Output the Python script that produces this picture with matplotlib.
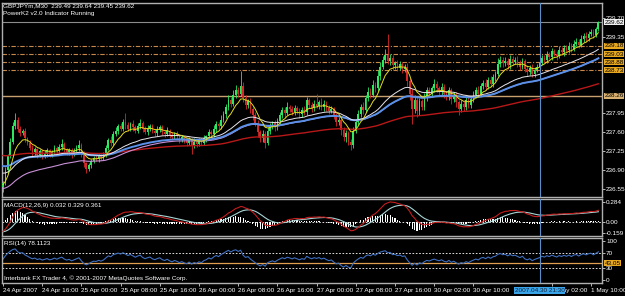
import matplotlib
matplotlib.use('agg')
import matplotlib.pyplot as plt
import matplotlib.transforms as mtransforms
import numpy as np
import pandas as pd

# GBPJPYm M30, 24 Apr 2007 08:00 .. 1 May 2007 11:30 (bar index 0..243)
first_open = 236.58
closes = [
    236.66, 236.90, 237.15, 237.42, 237.70, 237.82, 237.65, 237.58, 237.62, 237.48,
    237.40, 237.30, 237.22, 237.28, 237.18, 237.24, 237.15, 237.20, 237.26, 237.18,
    237.22, 237.30, 237.24, 237.32, 237.38, 237.28, 237.22, 237.26, 237.18, 237.24,
    237.30, 237.36, 237.20, 237.02, 236.92, 236.98, 237.06, 237.12, 237.10, 237.16,
    237.12, 237.18, 237.30, 237.44, 237.40, 237.56, 237.62, 237.70, 237.66, 237.78,
    237.72, 237.66, 237.74, 237.68, 237.62, 237.70, 237.76, 237.66, 237.60, 237.66,
    237.70, 237.62, 237.58, 237.64, 237.68, 237.60, 237.56, 237.62, 237.55, 237.50,
    237.56, 237.52, 237.46, 237.50, 237.44, 237.40, 237.46, 237.36, 237.42, 237.38,
    237.44, 237.40, 237.48, 237.52, 237.60, 237.56, 237.66, 237.74, 237.70, 237.82,
    237.92, 238.05, 238.18, 238.12, 238.28, 238.36, 238.30, 238.44, 238.22, 238.10,
    238.16, 238.02, 237.90, 237.76, 237.60, 237.48, 237.56, 237.40, 237.62, 237.70,
    237.76, 237.68, 237.80, 237.90, 238.00, 237.94, 238.06, 238.02, 237.96, 238.04,
    237.98, 237.92, 238.00, 237.96, 238.18, 238.10, 238.04, 238.12, 238.08, 238.14,
    238.06, 238.12, 238.04, 237.98, 238.02, 237.90, 237.78, 237.82, 237.64, 237.50,
    237.58, 237.42, 237.36, 237.62, 237.78, 237.92, 238.06, 238.00, 238.22, 238.34,
    238.28, 238.46, 238.40, 238.62, 238.80, 238.92, 239.02, 238.90, 238.96, 238.82,
    238.86, 238.78, 238.84, 238.76, 238.80, 238.54, 238.30, 238.02, 238.18, 237.98,
    238.16, 238.06, 238.24, 238.36, 238.30, 238.40, 238.48, 238.40, 238.34, 238.42,
    238.30, 238.24, 238.36, 238.20, 238.28, 238.14, 238.02, 238.12, 238.06, 238.18,
    238.10, 238.20, 238.28, 238.36, 238.30, 238.44, 238.50, 238.42, 238.56, 238.48,
    238.60, 238.66, 238.84, 238.92, 238.86, 238.90, 238.82, 238.94, 238.88, 238.92,
    238.86, 238.80, 238.90, 238.76, 238.70, 238.78, 238.66, 238.74, 238.80, 238.86,
    238.96, 238.92, 239.02, 238.98, 239.08, 239.04, 239.00, 239.10, 239.06, 239.14,
    239.10, 239.18, 239.12, 239.22, 239.26, 239.20, 239.30, 239.36, 239.32, 239.40,
    239.44, 239.38, 239.49, 239.62,
]
# wicks in pips above / below the candle body
hi_wick = [
    3, 5, 4, 6, 8, 13, 6, 5, 4, 5, 3, 4, 5, 4, 3, 5, 4, 6, 4, 3,
    4, 5, 3, 6, 8, 4, 3, 5, 4, 6, 5, 8, 3, 4, 3, 5, 4, 3, 5, 4,
    3, 5, 6, 4, 8, 5, 6, 4, 7, 5, 16, 6, 4, 8, 5, 6, 7, 4, 5, 6,
    4, 5, 3, 6, 4, 5, 3, 6, 4, 5, 3, 6, 4, 5, 3, 4, 5, 3, 6, 4,
    5, 4, 6, 3, 5, 4, 6, 5, 4, 8, 6, 7, 9, 6, 8, 10, 6, 27, 8, 6,
    5, 7, 4, 6, 5, 4, 8, 5, 6, 7, 4, 6, 5, 7, 6, 5, 8, 4, 6, 5,
    4, 6, 5, 7, 6, 5, 4, 6, 17, 5, 8, 6, 4, 5, 6, 4, 5, 6, 4, 5,
    6, 4, 5, 7, 6, 8, 5, 9, 6, 8, 7, 10, 6, 12, 9, 8, 10, 38, 8, 6,
    5, 7, 6, 5, 4, 6, 5, 8, 10, 6, 7, 5, 8, 6, 7, 5, 9, 6, 5, 7,
    6, 5, 7, 4, 6, 5, 4, 6, 5, 7, 6, 5, 7, 6, 8, 5, 6, 7, 5, 6,
    7, 6, 12, 8, 6, 7, 5, 8, 6, 5, 7, 6, 5, 4, 6, 5, 7, 6, 5, 6,
    5, 6, 7, 5, 6, 4, 5, 7, 6, 5, 6, 7, 5, 6, 7, 5, 8, 6, 7, 6,
    5, 6, 4, 2,
]
lo_wick = [
    8, 4, 5, 3, 4, 5, 6, 5, 4, 6, 5, 4, 6, 5, 7, 4, 5, 3, 6, 5,
    4, 3, 6, 4, 5, 6, 4, 5, 6, 3, 4, 5, 7, 6, 8, 4, 5, 4, 3, 5,
    4, 3, 5, 4, 6, 5, 4, 6, 5, 4, 6, 5, 4, 6, 5, 4, 5, 6, 4, 5,
    5, 4, 6, 5, 4, 6, 5, 4, 6, 5, 4, 5, 6, 4, 5, 6, 4, 16, 5, 6,
    4, 5, 4, 6, 5, 4, 5, 6, 4, 5, 4, 6, 5, 7, 4, 5, 6, 5, 7, 8,
    6, 7, 8, 6, 9, 7, 6, 10, 5, 6, 4, 7, 5, 6, 5, 7, 4, 6, 5, 6,
    5, 7, 4, 6, 5, 6, 7, 5, 4, 6, 5, 7, 6, 5, 4, 7, 8, 6, 9, 7,
    8, 6, 10, 5, 4, 6, 5, 7, 4, 6, 5, 4, 7, 5, 6, 4, 5, 6, 7, 8,
    6, 7, 5, 8, 6, 9, 12, 27, 8, 10, 7, 6, 5, 7, 6, 5, 6, 7, 8, 6,
    7, 6, 5, 8, 6, 9, 12, 6, 7, 5, 6, 7, 5, 6, 4, 5, 6, 5, 4, 6,
    5, 6, 4, 5, 6, 5, 7, 6, 5, 4, 6, 7, 5, 6, 8, 6, 5, 6, 4, 5,
    4, 6, 5, 4, 6, 5, 7, 4, 5, 6, 4, 5, 6, 4, 5, 6, 4, 5, 6, 5,
    4, 5, 4, 4,
]

# moving averages: (span, value at the left edge, colour, width)
ma_specs = [
    (150, 237.17, '#b81818', 1.0),
    (55, 236.55, '#c890d8', 0.8),
    (55, 236.98, '#5a90e8', 1.4),
    (34, 236.85, '#e8e4ec', 0.7),
    (8, 236.62, '#e4dc20', 0.7),
]
macd_seed = (236.60, 236.75, -0.14)
rsi_seed = (0.04, 0.04)

# 30 Apr 18:00 sits under the cursor box, so it is left out
tick_bars = [0, 16, 32, 48, 64, 80, 96, 112, 128, 144, 160, 176, 192, 224, 240]
tick_labels = ['24 Apr 2007', '24 Apr 16:00', '25 Apr 00:00', '25 Apr 08:00', '25 Apr 16:00',
               '26 Apr 00:00', '26 Apr 08:00', '26 Apr 16:00', '27 Apr 00:00', '27 Apr 08:00',
               '27 Apr 16:00', '30 Apr 02:00', '30 Apr 10:00', '1 May 02:00', '1 May 10:00']
# the 238.30 / 238.65 / 239.00 labels are covered by the level boxes
price_ticks = [236.55, 236.90, 237.25, 237.60, 237.95, 239.35, 239.70]
level_prices = [239.18, 239.03, 238.88, 238.73]
level_labels = ['239.18', '239.03', '238.88', '238.73']
pivot_price = 238.26
bid_price = 239.62
rsi_level = 43.05
cursor_bar = 219
cursor_label = '2007.04.30 21:30'

W, H = 625, 296
FONT = 'Liberation Sans'
FS = 4.6


def px_axes(fig, left, top, right, bottom):
    return fig.add_axes([left / W, 1 - bottom / H, (right - left) / W, (bottom - top) / H])


def style_axes(ax):
    ax.set_facecolor('black')
    for s in ax.spines.values():
        s.set_color('#b0b0b0')
        s.set_linewidth(1.0)
    ax.yaxis.tick_right()
    ax.tick_params(axis='y', colors='white', labelsize=FS, length=2, width=0.5, pad=1)
    ax.tick_params(axis='x', bottom=False, labelbottom=False)
    ax.set_xlim(-0.4, 244.5)


def right_box(ax, y, text, face):
    ax.text(1.004, y, text, transform=ax.get_yaxis_transform(), fontsize=FS, family=FONT,
            color='black', va='center', ha='left', clip_on=False, zorder=20,
            bbox=dict(boxstyle='square,pad=0.08', fc=face, ec='none'))


def ema(values, span, seed):
    s = pd.Series([seed] + list(values))
    return s.ewm(span=span, adjust=False).mean().values[1:]


closes_arr = np.array(closes)
opens = np.array([first_open] + closes[:-1])
body_top = np.maximum(opens, closes_arr)
body_bot = np.minimum(opens, closes_arr)
highs = body_top + np.array(hi_wick) / 100.0
lows = body_bot - np.array(lo_wick) / 100.0
x = np.arange(len(closes))

fig = plt.figure(figsize=(W / 100, H / 100), dpi=100, facecolor='black')
ax = px_axes(fig, 2, 3, 602, 197)
ax_macd = px_axes(fig, 2, 199, 602, 236)
ax_rsi = px_axes(fig, 2, 238, 602, 283)
for a in (ax, ax_macd, ax_rsi):
    style_axes(a)

# main chart
ax.set_ylim(236.40, 239.97)
ax.set_yticks(price_ticks)
ax.set_yticklabels(['%.2f' % p for p in price_ticks], family=FONT)

ax.axhline(bid_price, color='#8c8c8c', lw=0.8, zorder=1)
ax.axhline(pivot_price, color='#c8a070', lw=1.0, zorder=1)
for lv in level_prices:
    ax.axhline(lv, color='#c8884a', lw=0.8, ls=(0, (4, 1.5, 1, 1.5)), zorder=1)

up = closes_arr >= opens
cols = np.where(up, '#2ee860', '#d82828')
ax.vlines(x, lows, highs, colors=cols, lw=0.6, zorder=3)
ax.bar(x, np.maximum(body_top - body_bot, 0.008), bottom=body_bot, width=0.7, color=cols, lw=0, zorder=3)

for span, seed, col, lw in ma_specs:
    ax.plot(x, ema(closes, span, seed), color=col, lw=lw, zorder=4)

for lv, lab in zip(level_prices, level_labels):
    right_box(ax, lv, lab, '#e8a820')
right_box(ax, pivot_price, '238.26', '#d8b070')
right_box(ax, bid_price, '239.62', '#f0f0f0')

fig.text(3 / W, 1 - 6 / H, 'GBPJPYm,M30  239.49 239.64 239.45 239.62', color='white',
         fontsize=FS, family=FONT, va='center')
fig.text(3 / W, 1 - 13 / H, 'PowerK2 v2.0 Indicator Running', color='white',
         fontsize=FS, family=FONT, va='center')

# MACD
e12 = ema(closes, 12, macd_seed[0])
e26 = ema(closes, 26, macd_seed[1])
macd = e12 - e26
signal = ema(macd, 9, macd_seed[2])
hist = macd - signal
ax_macd.set_ylim(-0.199, 0.327)
ax_macd.set_yticks([0.284, 0.0, -0.159])
ax_macd.set_yticklabels(['0.284', '0.00', '-0.159'], family=FONT)
ax_macd.bar(x, hist, width=0.45, color='white', lw=0, zorder=2)
ax_macd.axhline(0, color='white', lw=0.6, ls=(0, (2, 2)), zorder=1)
ax_macd.plot(x, signal, color='#a8d4d4', lw=0.8, zorder=3)
ax_macd.plot(x, macd, color='#c41e1e', lw=0.8, zorder=3)
ax_macd.text(0.004, 0.82, 'MACD(12,26,9) 0.032 0.329 0.361', transform=ax_macd.transAxes,
             color='white', fontsize=FS, family=FONT, va='center')

# RSI(14), Wilder smoothing
avg_g, avg_l = rsi_seed
rsi = []
prev = first_open
for c in closes:
    d = c - prev
    prev = c
    avg_g = (avg_g * 13 + max(d, 0)) / 14
    avg_l = (avg_l * 13 + max(-d, 0)) / 14
    rsi.append(100 - 100 / (1 + avg_g / avg_l))
ax_rsi.set_ylim(-7.7, 107.7)
ax_rsi.set_yticks([100, 70, 30, 0])
ax_rsi.set_yticklabels(['100', '70', '30', '0'], family=FONT)
ax_rsi.axhline(70, color='white', lw=0.6, ls=(0, (2, 2)))
ax_rsi.axhline(30, color='white', lw=0.6, ls=(0, (2, 2)))
ax_rsi.axhline(rsi_level, color='#e0a050', lw=0.9)
ax_rsi.plot(x, rsi, color='#3f6fc0', lw=0.8)
right_box(ax_rsi, rsi_level, '43.05', '#e8a820')
ax_rsi.text(0.004, 0.88, 'RSI(14) 78.1123', transform=ax_rsi.transAxes,
            color='white', fontsize=FS, family=FONT, va='center')
ax_rsi.text(0.004, 0.1, 'Interbank FX Trader 4, \u00a9 2001-2007 MetaQuotes Software Corp.',
            transform=ax_rsi.transAxes, color='white', fontsize=FS, family=FONT, va='center')

# time axis
ax_rsi.tick_params(axis='x', bottom=True, labelbottom=True, colors='white', labelsize=FS,
                   length=2, width=0.5, pad=1.5)
ax_rsi.set_xticks(tick_bars)
ax_rsi.set_xticklabels(tick_labels, ha='left', family=FONT)

# cursor line through all panes
for a in (ax, ax_macd, ax_rsi):
    a.axvline(cursor_bar, color='#5a8ec8', lw=0.8, zorder=6)
trans = mtransforms.blended_transform_factory(ax_rsi.transData, ax_rsi.transAxes)
ax_rsi.text(cursor_bar, -0.17, cursor_label, transform=trans, ha='center', va='center',
            fontsize=FS, family=FONT, color='#10203a', clip_on=False, zorder=20,
            bbox=dict(boxstyle='square,pad=0.12', fc='#3aa4e8', ec='none'))

fig.savefig('out.png', dpi=100, facecolor='black')
